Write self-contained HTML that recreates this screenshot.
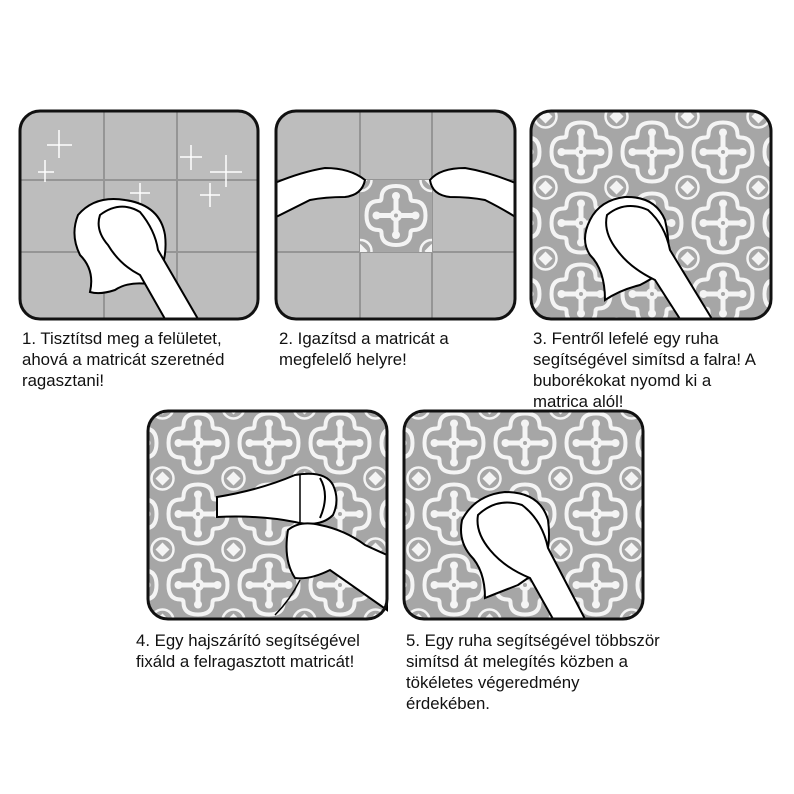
<!DOCTYPE html>
<html><head><meta charset="utf-8"><style>
body{margin:0;background:#fff;width:794px;height:794px;overflow:hidden;position:relative;font-family:"Liberation Sans",sans-serif;}
.t{position:absolute;font-size:16.8px;line-height:21px;color:#111;white-space:nowrap;}
svg{position:absolute;left:0;top:0}
</style></head><body>
<svg width="794" height="794" viewBox="0 0 794 794">
<defs>
<g id="tile">
<rect x="0" y="0" width="71" height="71" fill="#a6a6a6"/>
<g fill="none" stroke="#f4f4f4" stroke-width="4">
<path d="M35.5 6 Q50 6 50 18 Q50 21 53 21 Q65 21 65 35.5 Q65 50 53 50 Q50 50 50 53 Q50 65 35.5 65 Q21 65 21 53 Q21 50 18 50 Q6 50 6 35.5 Q6 21 18 21 Q21 21 21 18 Q21 6 35.5 6Z"/>
</g>
<g fill="#f4f4f4">
<rect x="33" y="14" width="5" height="43"/>
<rect x="14" y="33" width="43" height="5"/>
<circle cx="35.5" cy="35.5" r="6"/>
<circle cx="35.5" cy="16" r="4"/><circle cx="35.5" cy="55" r="4"/>
<circle cx="16" cy="35.5" r="4"/><circle cx="55" cy="35.5" r="4"/>
<path d="M0 -7 L7 0 L0 7 L-7 0Z M71 -7 L78 0 L71 7 L64 0Z M0 64 L7 71 L0 78 L-7 71Z M71 64 L78 71 L71 78 L64 71Z"/>
</g>
<g fill="none" stroke="#f4f4f4" stroke-width="2.5">
<circle cx="0" cy="0" r="11"/><circle cx="71" cy="0" r="11"/><circle cx="0" cy="71" r="11"/><circle cx="71" cy="71" r="11"/>
</g>
<circle cx="35.5" cy="35.5" r="2" fill="#a6a6a6"/>
</g>
<pattern id="p3" patternUnits="userSpaceOnUse" x="545.5" y="116.5" width="71" height="71"><use href="#tile"/></pattern>
<pattern id="p4" patternUnits="userSpaceOnUse" x="162.5" y="407.5" width="71" height="71"><use href="#tile"/></pattern>
<pattern id="p5" patternUnits="userSpaceOnUse" x="418.5" y="407.5" width="71" height="71"><use href="#tile"/></pattern>
<pattern id="p2" patternUnits="userSpaceOnUse" x="360.5" y="180" width="71" height="71"><use href="#tile"/></pattern>
<clipPath id="c1"><rect x="20" y="111" width="238" height="208" rx="20"/></clipPath>
<clipPath id="c2"><rect x="276" y="111" width="239" height="208" rx="20"/></clipPath>
</defs>

<rect x="20" y="111" width="238" height="208" rx="20" fill="#bdbdbd"/>
<g clip-path="url(#c1)" stroke="#959595" stroke-width="2">
<line x1="104" y1="111" x2="104" y2="319"/><line x1="177" y1="111" x2="177" y2="319"/>
<line x1="20" y1="180" x2="258" y2="180"/><line x1="20" y1="252" x2="258" y2="252"/>
</g>
<g stroke="#fff" stroke-width="1.5">
<path d="M59 130v28M47 145h25M45 160v22M38 172h16M140 183v20M130 193h20M191 145v25M180 157h22M226 155v32M210 172h32M210 183v24M200 195h20"/>
</g>
<path d="M78 215 Q95 195 125 200 Q160 205 165 235 Q168 260 155 285 Q130 280 115 290 Q100 295 90 292 Q95 270 80 255 Q70 235 78 215Z" fill="#fff" stroke="#000" stroke-width="2"/>
<path d="M100 215 Q120 200 140 212 Q155 230 158 250 L198 319 L165 319 L140 275 Q120 265 108 245 Q95 230 100 215Z" fill="#fff" stroke="#000" stroke-width="2"/>
<rect x="20" y="111" width="238" height="208" rx="20" fill="none" stroke="#111" stroke-width="3"/>

<rect x="276" y="111" width="239" height="208" rx="20" fill="#bdbdbd"/>
<g clip-path="url(#c2)" stroke="#959595" stroke-width="2">
<line x1="360" y1="111" x2="360" y2="319"/><line x1="432" y1="111" x2="432" y2="319"/>
<line x1="276" y1="180" x2="515" y2="180"/><line x1="276" y1="252" x2="515" y2="252"/>
</g>
<rect x="360" y="180" width="72" height="72" fill="url(#p2)"/>
<g clip-path="url(#c2)" fill="#fff" stroke="#000" stroke-width="2">
<path d="M270 185 Q300 172 325 168 Q350 168 365 180 Q362 195 345 197 Q325 197 310 200 Q290 210 270 220Z"/>
<path d="M520 185 Q490 172 465 168 Q440 168 430 180 Q432 195 450 197 Q470 197 485 200 Q505 210 520 220Z"/>
</g>
<rect x="276" y="111" width="239" height="208" rx="20" fill="none" stroke="#111" stroke-width="3"/>

<rect x="531" y="111" width="240" height="208" rx="20" fill="url(#p3)"/>
<path d="M590 220 Q600 200 625 197 Q655 196 665 220 Q672 250 665 270 Q650 280 640 285 Q620 290 605 300 Q605 270 590 255 Q580 240 590 220Z" fill="#fff" stroke="#000" stroke-width="2"/>
<path d="M607 215 Q625 200 648 210 Q665 225 670 250 L712 319 L680 319 L655 280 Q630 268 617 250 Q603 232 607 215Z" fill="#fff" stroke="#000" stroke-width="2"/>
<rect x="531" y="111" width="240" height="208" rx="20" fill="none" stroke="#111" stroke-width="3"/>

<rect x="148" y="411" width="239" height="208" rx="20" fill="url(#p4)"/>
<path d="M217 497 Q260 490 295 475 Q325 470 333 485 Q340 500 333 515 Q320 528 295 522 Q260 515 217 517Z" fill="#fff" stroke="#000" stroke-width="2"/>
<path d="M300 475 L300 522" stroke="#000" stroke-width="1.5"/>
<path d="M320 478 Q330 495 320 518" fill="none" stroke="#000" stroke-width="2"/>
<path d="M288 530 Q300 520 320 525 Q345 530 365 545 L387 555 L387 610 L330 570 Q310 580 295 578 Q283 560 288 530Z" fill="#fff" stroke="#000" stroke-width="2"/>
<path d="M300 580 Q290 600 275 615" fill="none" stroke="#000" stroke-width="1.5"/>
<rect x="148" y="411" width="239" height="208" rx="20" fill="none" stroke="#111" stroke-width="3"/>

<rect x="404" y="411" width="239" height="208" rx="20" fill="url(#p5)"/>
<path d="M462 520 Q475 495 505 492 Q540 492 548 520 Q552 550 540 570 Q525 580 518 585 Q500 592 485 598 Q485 570 470 555 Q458 540 462 520Z" fill="#fff" stroke="#000" stroke-width="2"/>
<path d="M478 515 Q497 497 522 505 Q542 520 548 548 L585 619 L553 619 L530 578 Q505 568 490 550 Q475 532 478 515Z" fill="#fff" stroke="#000" stroke-width="2"/>
<rect x="404" y="411" width="239" height="208" rx="20" fill="none" stroke="#111" stroke-width="3"/>
</svg>

<div class="t" style="left:22px;top:328px">1. Tisztítsd meg a felületet,<br>ahová a matricát szeretnéd<br>ragasztani!</div>
<div class="t" style="left:279px;top:328px">2. Igazítsd a matricát a<br>megfelelő helyre!</div>
<div class="t" style="left:533px;top:328px">3. Fentről lefelé egy ruha<br>segítségével simítsd a falra! A<br>buborékokat nyomd ki a<br>matrica alól!</div>
<div class="t" style="left:136px;top:630px">4. Egy hajszárító segítségével<br>fixáld a felragasztott matricát!</div>
<div class="t" style="left:406px;top:630px">5. Egy ruha segítségével többször<br>simítsd át melegítés közben a<br>tökéletes végeredmény<br>érdekében.</div>
</body></html>
